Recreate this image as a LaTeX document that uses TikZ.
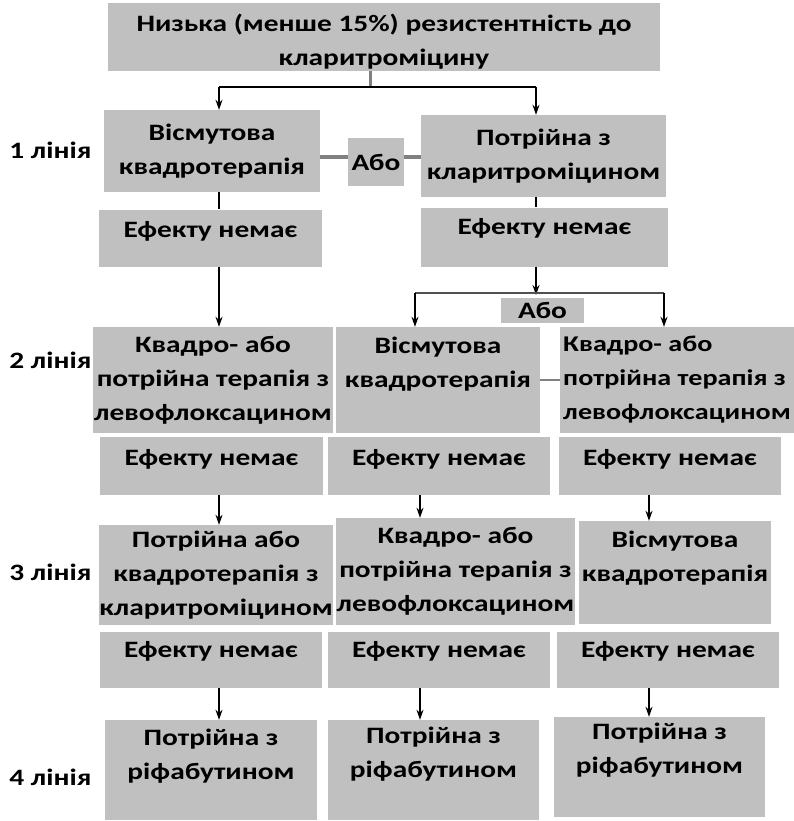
\documentclass[tikz,border=0pt]{standalone}
\usepackage{fontspec}
\setmainfont{Carlito}[FakeStretch=1.25]
\usetikzlibrary{arrows.meta}
\definecolor{boxgrey}{RGB}{192,192,192}
\definecolor{linegrey}{RGB}{128,128,128}
\definecolor{forkgrey}{RGB}{80,80,80}

\begin{document}
\begin{tikzpicture}[x=1pt, y=-1pt, >={Stealth[length=10pt,width=7pt]},
  font=\fontsize{23.5}{34}\selectfont\bfseries,
  box/.style={fill=boxgrey, inner sep=0pt, align=center},
  lift/.style={text depth=#1},
  drop/.style={text height=#1},
  orline/.style={linegrey, line width=3.5pt},
  arr/.style={->, line width=1.2pt}]
\useasboundingbox (0,0) rectangle (794,821);

% top
\node[box, drop=60pt, minimum width=552, minimum height=68] (top) at (384,37)
  {Низька (менше 15\%) резистентність до\\кларитроміцину};
\coordinate (forkT) at (370,87);
\coordinate (forkL) at (219,87);
\coordinate (forkR) at (536,87);

% 1 line
\node[anchor=east] (lin1) at (95,150) {1 лінія};
\node[box, minimum width=216, minimum height=82] (visL1) at (212,151) {Вісмутова\\квадротерапія};
\node[box, minimum width=56, minimum height=47] (abo1) at (376,162) {Або};
\node[box, minimum width=245, minimum height=82] (triR1) at (543.5,156) {Потрійна з\\кларитроміцином};
\node[box, lift=18pt, minimum width=223, minimum height=57] (noL1) at (210.5,238) {Ефекту немає};
\node[box, lift=22pt, minimum width=247, minimum height=59] (noR1) at (544.5,237) {Ефекту немає};

\draw[linegrey, line width=3pt] (top.south -| forkT) -- (forkT);
\draw[line width=1.5pt] (forkL) -- (forkR);
\draw[arr] (forkL) -- (forkL |- visL1.north);
\draw[arr] (forkR) -- (forkR |- triR1.north);
\draw[orline] (visL1.east |- 0,157) -- (abo1.west |- 0,157);
\draw[orline] (abo1.east |- 0,157) -- (triR1.west |- 0,157);
\draw[line width=1.2pt] (visL1.south -| forkL) -- (noL1.north -| forkL);
\draw[line width=1.2pt] (triR1.south -| forkR) -- (noR1.north -| forkR);

% 2 line
\coordinate (fork2) at (536,293);
\coordinate (fork2L) at (415,293);
\coordinate (fork2R) at (664,293);
\node[box, minimum width=83, minimum height=25] (abo2) at (542.5,310) {Або};
\node[anchor=east] (lin2) at (95,360) {2 лінія};
\node[box, minimum width=240, minimum height=106] (kvL2) at (213,380)
  {Квадро- або\\потрійна терапія з\\левофлоксацином};
\node[box, lift=36pt, minimum width=204, minimum height=106] (visM2) at (438,380)
  {Вісмутова\\квадротерапія};
\node[box, align=left, font=\fontsize{22.5}{34}\selectfont\bfseries,
  minimum width=234, minimum height=106] (kvR2) at (677,380)
  {Квадро- або\\потрійна терапія з\\левофлоксацином};
\node[box, lift=18pt, minimum width=223, minimum height=58] (noL2) at (211.5,466) {Ефекту немає};
\node[box, lift=18pt, minimum width=222, minimum height=58] (noM2) at (439,466) {Ефекту немає};
\node[box, lift=18pt, minimum width=222, minimum height=58] (noR2) at (670,466) {Ефекту немає};

\draw[arr] (noL1.south -| forkL) -- (kvL2.north -| forkL);
\draw[arr] (noR1.south -| forkR) -- ([yshift=-2pt]fork2);
\draw[forkgrey, line width=2.5pt] (fork2L) -- (fork2R);
\draw[arr] (fork2L) -- (fork2L |- visM2.north);
\draw[arr] (fork2R) -- (fork2R |- kvR2.north);
\draw[linegrey, line width=1.5pt] (visM2.east) -- (kvR2.west);

% 3 line
\coordinate (colL) at (219,0);
\coordinate (colM) at (420,0);
\coordinate (colR) at (649,0);
\node[anchor=east] (lin3) at (95,572) {3 лінія};
\node[box, minimum width=234, minimum height=100] (potL3) at (216,575)
  {Потрійна або\\квадротерапія з\\кларитроміцином};
\node[box, minimum width=239, minimum height=107] (kvM3) at (455.5,571.5)
  {Квадро- або\\потрійна терапія з\\левофлоксацином};
\node[box, lift=32pt, minimum width=192, minimum height=103] (visR3) at (675,572.5)
  {Вісмутова\\квадротерапія};
\node[box, lift=22pt, minimum width=222, minimum height=56] (noL3) at (211,660) {Ефекту немає};
\node[box, lift=22pt, minimum width=222, minimum height=56] (noM3) at (439,660) {Ефекту немає};
\node[box, lift=22pt, minimum width=222, minimum height=56] (noR3) at (668,660) {Ефекту немає};

\draw[arr] (noL2.south -| colL) -- (potL3.north -| colL);
\draw[arr] (noM2.south -| colM) -- (kvM3.north -| colM);
\draw[arr] (noR2.south -| colR) -- (visR3.north -| colR);

% 4 line
\node[anchor=east] (lin4) at (95,777) {4 лінія};
\node[box, lift=32pt, minimum width=212, minimum height=100] (rifL4) at (211,770)
  {Потрійна з\\ріфабутином};
\node[box, lift=36pt, minimum width=211, minimum height=100] (rifM4) at (433.5,770)
  {Потрійна з\\ріфабутином};
\node[box, lift=38pt, minimum width=211, minimum height=100] (rifR4) at (659.5,767)
  {Потрійна з\\ріфабутином};

\draw[arr] (noL3.south -| colL) -- (rifL4.north -| colL);
\draw[arr] (noM3.south -| colM) -- (rifM4.north -| colM);
\draw[arr] (noR3.south -| colR) -- (rifR4.north -| colR);
\end{tikzpicture}
\end{document}
